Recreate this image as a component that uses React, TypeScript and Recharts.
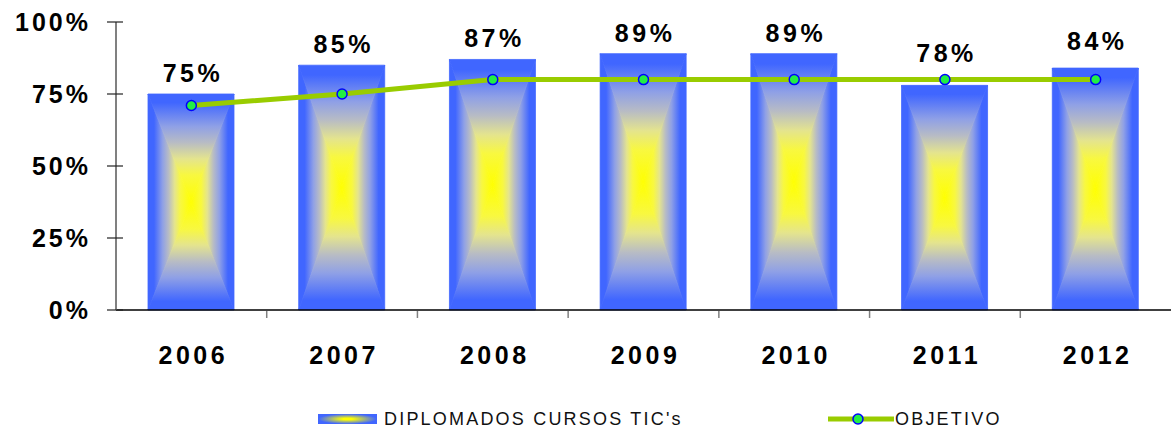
import React from 'react';
import { ComposedChart, Bar, Line, XAxis, YAxis, Legend, LabelList } from 'recharts';

const years = ['2006', '2007', '2008', '2009', '2010', '2011', '2012'];
const diplomados = [75, 85, 87, 89, 89, 78, 84];
const objetivo = [71, 75, 80, 80, 80, 80, 80];
const yTicks = [0, 25, 50, 75, 100];

// extra lift (px) for the value labels that were moved up in the original
const labelLift = [0, 0, 0, 0, 0, 11, 6];

const data = years.map((year, i) => ({ year, diplomados: diplomados[i], objetivo: objetivo[i] }));

const font = "'Liberation Sans', Arial, sans-serif";
const blue = '#4066ff';
const yellow = '#ffff00';
const green = '#99cc00';

const vStops = [
  [0, blue],
  [0.08, blue],
  [0.3, '#8fa0e6'],
  [0.45, '#b8bcc4'],
  [0.6, '#e4e48e'],
  [0.75, '#f8f840'],
  [1, yellow],
];
const hStops = [
  [0, blue],
  [0.14, blue],
  [0.34, '#8fa0e6'],
  [0.48, '#b8bcc4'],
  [0.62, '#e4e48e'],
  [0.76, '#f8f840'],
  [1, yellow],
];

const makeGrad = (id: string, stops: any[], x1: number, y1: number, x2: number, y2: number) => (
  <linearGradient id={id} x1={x1} y1={y1} x2={x2} y2={y2}>
    {stops.map(([o, c]) => (
      <stop key={String(o)} offset={o} stopColor={c} />
    ))}
  </linearGradient>
);

const GradientBar = (props: any) => {
  const { x, y, width, height } = props;
  if (!height || height <= 0) return null;
  const cx = x + width / 2;
  const cy = y + height / 2;
  const r = x + width;
  const b = y + height;
  const part = (pts: string, id: string) => (
    <polygon points={pts} fill={`url(#${id})`} stroke={`url(#${id})`} strokeWidth={0.8} strokeLinejoin="round" />
  );
  return (
    <g>
      {part(`${x},${y} ${x},${b} ${cx},${cy}`, 'gLeft')}
      {part(`${r},${y} ${r},${b} ${cx},${cy}`, 'gRight')}
      {part(`${x},${y} ${r},${y} ${cx},${cy}`, 'gTop')}
      {part(`${x},${b} ${r},${b} ${cx},${cy}`, 'gBottom')}
    </g>
  );
};

const BarLabel = (props: any) => {
  const { x, y, width, value, index } = props;
  return (
    <text
      x={x + width / 2 + 2}
      y={y - 12 - (labelLift[index] || 0)}
      textAnchor="middle"
      fontFamily={font}
      fontWeight={700}
      fontSize={25}
      letterSpacing={3.5}
      fill="#000"
    >
      {`${value}%`}
    </text>
  );
};

const YTick = (props: any) => {
  const { x, y, payload } = props;
  return (
    <g>
      <line x1={x - 9} x2={x + 7} y1={y} y2={y} stroke="#222" strokeWidth={1.2} />
      <text
        x={x - 25}
        y={y}
        dy="0.36em"
        textAnchor="end"
        fontFamily={font}
        fontWeight={700}
        fontSize={25}
        letterSpacing={3}
        fill="#000"
      >
        {`${payload.value}%`}
      </text>
    </g>
  );
};

const XTick = (props: any) => {
  const { x, y, payload, index } = props;
  const half = payload.offset || 1055 / 14;
  return (
    <g>
      {index > 0 && (
        <line x1={x - half} x2={x - half} y1={y + 1} y2={y + 8} stroke="#808080" strokeWidth={1.5} />
      )}
      <text
        x={x + 2}
        y={y + 45}
        dy="0.36em"
        textAnchor="middle"
        fontFamily={font}
        fontWeight={700}
        fontSize={25}
        letterSpacing={3.5}
        fill="#000"
      >
        {payload.value}
      </text>
    </g>
  );
};

const legendText = {
  position: 'absolute' as const,
  top: 4,
  lineHeight: '22px',
  fontSize: 18,
  letterSpacing: 2.2,
  whiteSpace: 'nowrap' as const,
};

const LegendContent = () => (
  <div style={{ position: 'relative', width: 1171, height: 30, fontFamily: font, color: '#111' }}>
    <div
      style={{
        position: 'absolute',
        left: 318,
        top: 10,
        width: 59,
        height: 10,
        background: `radial-gradient(ellipse at center, ${yellow} 12%, ${blue} 70%)`,
      }}
    />
    <div style={{ ...legendText, left: 384 }}>DIPLOMADOS CURSOS TIC's</div>
    <svg style={{ position: 'absolute', left: 826, top: 5 }} width={70} height={20}>
      <line x1={2} x2={68} y1={10} y2={10} stroke={green} strokeWidth={5} />
      <circle cx={32} cy={10} r={5} fill="#22ee44" stroke="#0000ff" strokeWidth={1.5} />
    </svg>
    <div style={{ ...legendText, left: 895 }}>OBJETIVO</div>
  </div>
);

export default function App() {
  return (
    <div style={{ position: 'absolute', left: 0, top: 0, width: 1171, height: 430, background: '#fff' }}>
      <ComposedChart width={1171} height={430} data={data} margin={{ top: 22, right: 0, left: 0, bottom: 0 }}>
        <defs>
          {makeGrad('gLeft', hStops, 0, 0, 1, 0)}
          {makeGrad('gRight', hStops, 1, 0, 0, 0)}
          {makeGrad('gTop', vStops, 0, 0, 0, 1)}
          {makeGrad('gBottom', vStops, 0, 1, 0, 0)}
        </defs>
        <XAxis
          dataKey="year"
          height={90}
          axisLine={{ stroke: '#000', strokeWidth: 1.5 }}
          tickLine={false}
          tickSize={0}
          tickMargin={0}
          tick={<XTick />}
          interval={0}
        />
        <YAxis
          width={116}
          domain={[0, 100]}
          ticks={yTicks}
          axisLine={{ stroke: '#808080', strokeWidth: 2 }}
          tickLine={false}
          tickSize={0}
          tickMargin={0}
          tick={<YTick />}
          interval={0}
        />
        <Legend
          content={<LegendContent />}
          wrapperStyle={{ top: 404, left: 0, bottom: 'auto', width: 1171, height: 30 }}
        />
        <Bar dataKey="diplomados" name="DIPLOMADOS CURSOS TIC's" barSize={86} shape={<GradientBar />} isAnimationActive={false}>
          <LabelList dataKey="diplomados" content={<BarLabel />} />
        </Bar>
        <Line
          type="linear"
          dataKey="objetivo"
          name="OBJETIVO"
          stroke={green}
          strokeWidth={5}
          dot={{ r: 5, fill: '#22ee44', stroke: '#0000ff', strokeWidth: 1.5 }}
          activeDot={false}
          isAnimationActive={false}
        />
      </ComposedChart>
    </div>
  );
}
